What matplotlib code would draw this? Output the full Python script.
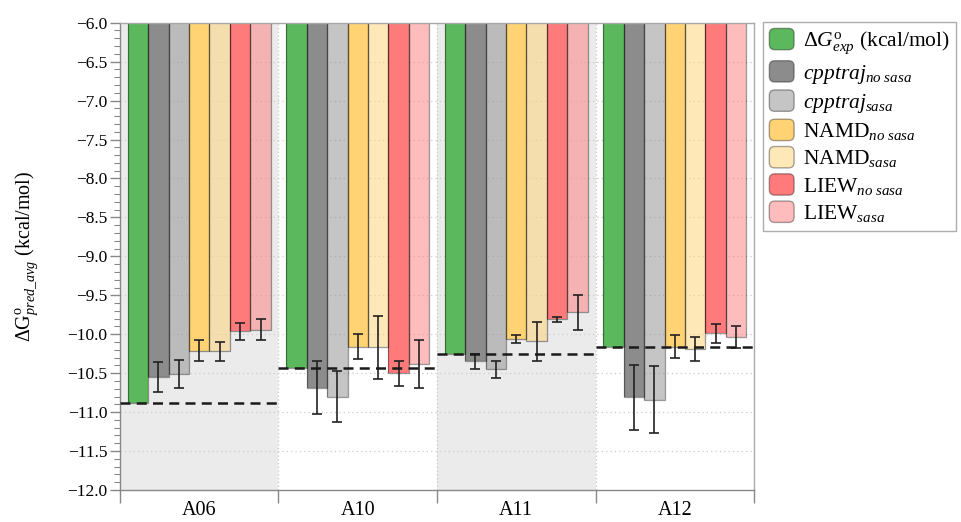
import numpy as np
import matplotlib
matplotlib.use('Agg')
import matplotlib.pyplot as plt
from matplotlib.patches import Patch, FancyBboxPatch
from matplotlib.legend_handler import HandlerPatch
from matplotlib.ticker import MultipleLocator

plt.rcParams['font.family'] = 'Liberation Serif'
plt.rcParams['mathtext.fontset'] = 'custom'
plt.rcParams['mathtext.rm'] = 'Liberation Serif'
plt.rcParams['mathtext.it'] = 'Liberation Serif:italic'
plt.rcParams['mathtext.bf'] = 'Liberation Serif:bold'

# complexes
systems = ['A06', 'A10', 'A11', 'A12']

# experimental binding free energy (kcal/mol)
dg_exp = [-10.88, -10.43, -10.25, -10.16]

# predicted averages and their standard deviations
cpptraj_nosasa = [-10.55, -10.69, -10.35, -10.81]
cpptraj_nosasa_err = [0.19, 0.34, 0.10, 0.42]
cpptraj_sasa = [-10.51, -10.80, -10.45, -10.84]
cpptraj_sasa_err = [0.18, 0.33, 0.11, 0.43]
namd_nosasa = [-10.21, -10.16, -10.06, -10.16]
namd_nosasa_err = [0.14, 0.16, 0.05, 0.15]
namd_sasa = [-10.22, -10.17, -10.09, -10.19]
namd_sasa_err = [0.12, 0.40, 0.25, 0.16]
liew_nosasa = [-9.96, -10.50, -9.81, -9.99]
liew_nosasa_err = [0.11, 0.16, 0.03, 0.12]
liew_sasa = [-9.94, -10.38, -9.72, -10.04]
liew_sasa_err = [0.14, 0.31, 0.23, 0.14]

labels = [r'$\Delta G^{\mathrm{o}}_{exp}$ (kcal/mol)',
          r'$cpptraj_{no\ sasa}$',
          r'$cpptraj_{sasa}$',
          r'NAMD$_{no\ sasa}$',
          r'NAMD$_{sasa}$',
          r'LIEW$_{no\ sasa}$',
          r'LIEW$_{sasa}$']

series = [(dg_exp, None, '#5cb85c', 1.0),
          (cpptraj_nosasa, cpptraj_nosasa_err, '#8c8c8c', 1.0),
          (cpptraj_sasa, cpptraj_sasa_err, '#8c8c8c', 0.5),
          (namd_nosasa, namd_nosasa_err, '#ffd373', 1.0),
          (namd_sasa, namd_sasa_err, '#ffd373', 0.5),
          (liew_nosasa, liew_nosasa_err, '#ff7b7b', 1.0),
          (liew_sasa, liew_sasa_err, '#ff7b7b', 0.5)]


class RoundBox(HandlerPatch):
    def create_artists(self, legend, orig_handle, xdescent, ydescent,
                       width, height, fontsize, trans):
        p = FancyBboxPatch((-xdescent, -ydescent), width, height,
                           boxstyle='round,pad=0,rounding_size=%g' % (0.25 * height),
                           facecolor=orig_handle.get_facecolor(),
                           edgecolor=(0, 0, 0, 0.35), lw=1.0, transform=trans)
        return [p]


fig = plt.figure(figsize=(9.62, 5.22), dpi=100)
ax = fig.add_axes([0.1247, 0.0613, 0.6591, 0.8952])

x = np.arange(len(systems))
w = 0.129

# alternating shaded columns
for i in x:
    if i % 2 == 0:
        ax.axvspan(i - 0.5, i + 0.5, color='#ebebeb', lw=0, zorder=0)
for b in x[:-1] + 0.5:
    ax.axvline(b, color='#c8c8c8', lw=0.9, ls=(0, (1, 2)), zorder=0.5)
for yy in np.arange(-11.5, -6.0, 0.5):
    ax.axhline(yy, color='#cccccc', lw=0.9, ls=(0, (1, 2.5)), zorder=0.5)

handles = []
for k, (vals, err, col, a) in enumerate(series):
    pos = x + (k - 3) * w
    ax.bar(pos, vals, width=w, color=col, alpha=a, edgecolor='none', zorder=2)
    ax.bar(pos, vals, width=w, facecolor='none', edgecolor=(0, 0, 0, 0.4),
           lw=0.9, zorder=2.1)
    if err is not None:
        ax.errorbar(pos, vals, yerr=err, fmt='none', ecolor='#222222',
                    elinewidth=1.2, capsize=3.5, capthick=1.2, zorder=3)
    handles.append(Patch(facecolor=matplotlib.colors.to_rgba(col, a)))

# experimental reference lines
for i, v in zip(x, dg_exp):
    ax.hlines(v, i - 0.5, i + 0.5, colors='#1a1a1a', lw=1.8,
              linestyles=(0, (4, 2.5)), zorder=4)

ax.set_xlim(-0.5, len(systems) - 0.5)
ax.set_ylim(-12.0, -6.0)
yt = np.arange(-12.0, -5.99, 0.5)
ax.yaxis.set_minor_locator(MultipleLocator(0.1))
ax.set_yticks(yt)
ax.set_yticklabels([('%.1f' % v).replace('-', '\u2212') for v in yt])
ax.set_xticks(x)
ax.set_xticklabels(systems)
ax.set_xticks(np.arange(-0.5, len(systems), 1.0), minor=True)
ax.tick_params(axis='x', which='major', length=0, pad=8, labelsize=14.5)
ax.tick_params(axis='x', which='minor', length=9, width=1, color='#888888')
ax.tick_params(axis='y', which='major', length=7, width=1, color='#888888',
               labelsize=12.5, pad=2)
ax.tick_params(axis='y', which='minor', length=4, width=0.8, color='#888888')
for s in ax.spines.values():
    s.set_color('#aaaaaa')
    s.set_linewidth(1.0)
ax.spines['left'].set_color('#888888')
ax.spines['bottom'].set_color('#888888')

ax.set_ylabel(r'$\Delta \mathrm{G}^{\mathrm{o}}_{pred\_avg}$ (kcal/mol)', fontsize=14.5,
              labelpad=20)

leg = fig.legend(handles, labels, loc='upper left',
                 bbox_to_anchor=(0.793, 0.958), bbox_transform=fig.transFigure,
                 borderaxespad=0, fontsize=15.5, frameon=True, fancybox=False,
                 handler_map={Patch: RoundBox()}, handlelength=1.15,
                 handleheight=1.15, handletextpad=0.4, labelspacing=0.2,
                 borderpad=0.3)
leg.get_frame().set_edgecolor('#999999')
leg.get_frame().set_linewidth(1.0)

fig.savefig('out.png', dpi=100)
